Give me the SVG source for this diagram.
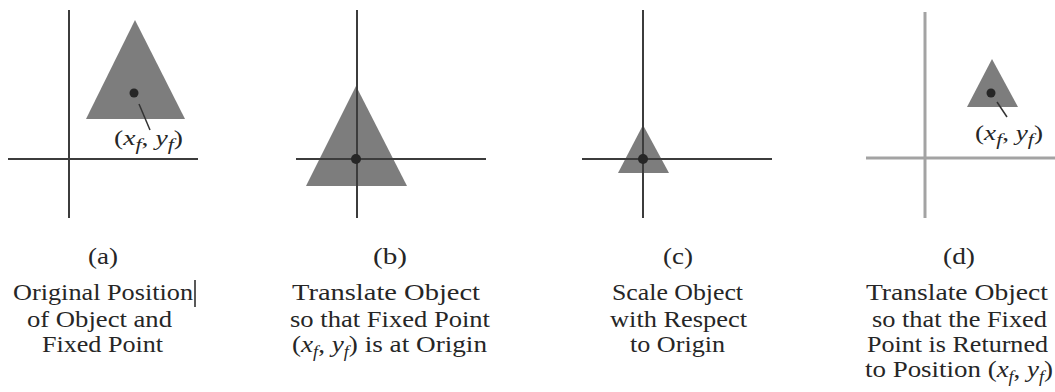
<svg xmlns="http://www.w3.org/2000/svg" width="1055" height="392" viewBox="0 0 1055 392">
<style>
.axis{stroke:#3c3c3c;stroke-width:2;fill:none}
.axisl{stroke:#a3a3a3;stroke-width:3;fill:none}
.tri{fill:#7d7d7d}
.dot{fill:#262626}
.lead{stroke:#333;stroke-width:1.5}
.cap{font-family:"Liberation Serif","Times New Roman",serif;font-size:24px;fill:#262626}
.lab{font-family:"Liberation Serif","Times New Roman",serif;font-size:20px;fill:#262626}
.it{font-style:italic}
.sub{font-style:italic;font-size:16px}
</style>
<g id="panel-a">
  <polygon class="tri" points="135,20 86,119 185,119"/>
  <line class="axis" x1="69" y1="10" x2="69" y2="218"/>
  <line class="axis" x1="8" y1="159" x2="198" y2="159"/>
  <circle class="dot" cx="134" cy="93" r="4.5"/>
  <line class="lead" x1="139" y1="104" x2="150" y2="130"/>
  <text class="lab" x="114" y="145" textLength="69" lengthAdjust="spacingAndGlyphs">(<tspan class="it">x</tspan><tspan class="sub" dy="5">f</tspan><tspan dy="-5">, </tspan><tspan class="it">y</tspan><tspan class="sub" dy="5">f</tspan><tspan dy="-5">)</tspan></text>
</g>
<g id="panel-b">
  <polygon class="tri" points="356,86 306,186 407,186"/>
  <line class="axis" x1="357" y1="10" x2="357" y2="218"/>
  <line class="axis" x1="296" y1="159" x2="486" y2="159"/>
  <circle class="dot" cx="356" cy="159" r="5"/>
</g>
<g id="panel-c">
  <polygon class="tri" points="643,125 618,173 669,173"/>
  <line class="axis" x1="643" y1="10" x2="643" y2="218"/>
  <line class="axis" x1="582" y1="159" x2="772" y2="159"/>
  <circle class="dot" cx="643" cy="159" r="5"/>
</g>
<g id="panel-d">
  <line class="axisl" x1="925" y1="12" x2="925" y2="218"/>
  <line class="axisl" x1="866" y1="158" x2="1055" y2="158"/>
  <polygon class="tri" points="992,59 967,107 1018,107"/>
  <circle class="dot" cx="991" cy="93" r="4.5"/>
  <line class="lead" x1="997" y1="102" x2="1007" y2="117"/>
  <text class="lab" x="975" y="140" textLength="68" lengthAdjust="spacingAndGlyphs">(<tspan class="it">x</tspan><tspan class="sub" dy="5">f</tspan><tspan dy="-5">, </tspan><tspan class="it">y</tspan><tspan class="sub" dy="5">f</tspan><tspan dy="-5">)</tspan></text>
</g>
<g id="caption-a" class="cap">
  <text x="88" y="264" textLength="30" lengthAdjust="spacingAndGlyphs">(a)</text>
  <text x="13" y="300" textLength="180" lengthAdjust="spacingAndGlyphs">Original Position</text>
  <text x="27" y="327" textLength="145" lengthAdjust="spacingAndGlyphs">of Object and</text>
  <text x="42" y="352" textLength="121" lengthAdjust="spacingAndGlyphs">Fixed Point</text>
  <line x1="195" y1="280" x2="195" y2="307" stroke="#222" stroke-width="1.5"/>
</g>
<g id="caption-b" class="cap">
  <text x="373" y="264" textLength="34" lengthAdjust="spacingAndGlyphs">(b)</text>
  <text x="292" y="300" textLength="188" lengthAdjust="spacingAndGlyphs">Translate Object</text>
  <text x="290" y="327" textLength="200" lengthAdjust="spacingAndGlyphs">so that Fixed Point</text>
  <text x="292" y="352" textLength="195" lengthAdjust="spacingAndGlyphs">(<tspan class="it">x</tspan><tspan class="sub" dy="5">f</tspan><tspan dy="-5">, </tspan><tspan class="it">y</tspan><tspan class="sub" dy="5">f</tspan><tspan dy="-5">) is at Origin</tspan></text>
</g>
<g id="caption-c" class="cap">
  <text x="663" y="264" textLength="30" lengthAdjust="spacingAndGlyphs">(c)</text>
  <text x="612" y="300" textLength="131" lengthAdjust="spacingAndGlyphs">Scale Object</text>
  <text x="610" y="327" textLength="137" lengthAdjust="spacingAndGlyphs">with Respect</text>
  <text x="630" y="352" textLength="95" lengthAdjust="spacingAndGlyphs">to Origin</text>
</g>
<g id="caption-d" class="cap">
  <text x="943" y="264" textLength="32" lengthAdjust="spacingAndGlyphs">(d)</text>
  <text x="866" y="300" textLength="182" lengthAdjust="spacingAndGlyphs">Translate Object</text>
  <text x="872" y="327" textLength="175" lengthAdjust="spacingAndGlyphs">so that the Fixed</text>
  <text x="867" y="352" textLength="181" lengthAdjust="spacingAndGlyphs">Point is Returned</text>
  <text x="865" y="377" textLength="188" lengthAdjust="spacingAndGlyphs">to Position (<tspan class="it">x</tspan><tspan class="sub" dy="5">f</tspan><tspan dy="-5">, </tspan><tspan class="it">y</tspan><tspan class="sub" dy="5">f</tspan><tspan dy="-5">)</tspan></text>
</g>
</svg>
